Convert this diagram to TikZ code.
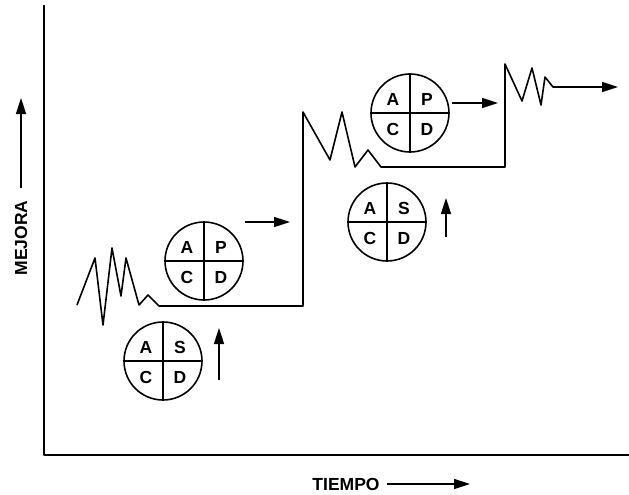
\documentclass[tikz,border=0pt]{standalone}
\usepackage{fontspec}
\setmainfont{Liberation Sans}
\usetikzlibrary{arrows.meta}
\begin{document}
\begin{tikzpicture}[x=1pt, y=-1pt, line width=1.6pt, line join=round,
                    wheel/.style={draw, circle, minimum size=78pt, inner sep=0pt},
                    lbl/.style={font=\bfseries\fontsize{17.5}{17.5}\selectfont, inner sep=0pt},
                    arr/.style={-{Triangle[length=16pt, width=10pt]}}]
    \useasboundingbox (0,0) rectangle (629,495);
    % axes
    \coordinate (top)    at (44,5);
    \coordinate (origin) at (44,455);
    \coordinate (right)  at (629,455);
    \draw (top) -- (origin) -- (right);
    \node[lbl, rotate=90] (mejora) at (21,238) {MEJORA};
    \coordinate (mup) at (21,98);
    \draw[arr] (mejora.east) ++(0,-12) -- (mup);
    \node[lbl] (tiempo) at (346,484) {TIEMPO};
    \coordinate (tright) at (470,484);
    \draw[arr] ([xshift=7]tiempo.east) -- (tright);
    % wheels
    \foreach \n/\x/\y/\t in {w1/163/361/S, w2/204/261/P, w3/387/222/S, w4/410/113/P} {
        \node[wheel] (\n) at (\x,\y) {};
        \draw (\n.north) -- (\n.south) (\n.west) -- (\n.east);
        \node[lbl] (\n-a) at ([shift={(-17,-14)}]\n.center) {A};
        \node[lbl] (\n-t) at ([shift={(17,-14)}]\n.center)  {\t};
        \node[lbl] (\n-c) at ([shift={(-17,16)}]\n.center)  {C};
        \node[lbl] (\n-d) at ([shift={(17,16)}]\n.center)   {D};
    }
    % arrows beside the wheels
    \coordinate (s1) at (219,380); \coordinate (e1) at (219,328);
    \coordinate (s2) at (245,222); \coordinate (e2) at (290,222);
    \coordinate (s3) at (446,237); \coordinate (e3) at (446,198);
    \coordinate (s4) at (452,103); \coordinate (e4) at (498,103);
    \foreach \i in {1,...,4}
        \draw[arr] (s\i) -- (e\i);
    % improvement line
    \coordinate (step1) at (303,306);
    \coordinate (step2) at (505,167);
    \coordinate (goal)  at (618,87);
    \draw[arr] (77,305) -- (95,258) -- (103,325) -- (112,248) -- (121,296)
        -- (126,258) -- (139,305) -- (148,295) -- (159,306) -- (step1)
        -- (303,112) -- (330,160) -- (342,112) -- (355,167) -- (368,150)
        -- (381,167) -- (step2) -- (505,64) -- (522,101) -- (532,68)
        -- (541,105) -- (545,77) -- (553,87) -- (goal);
\end{tikzpicture}
\end{document}
